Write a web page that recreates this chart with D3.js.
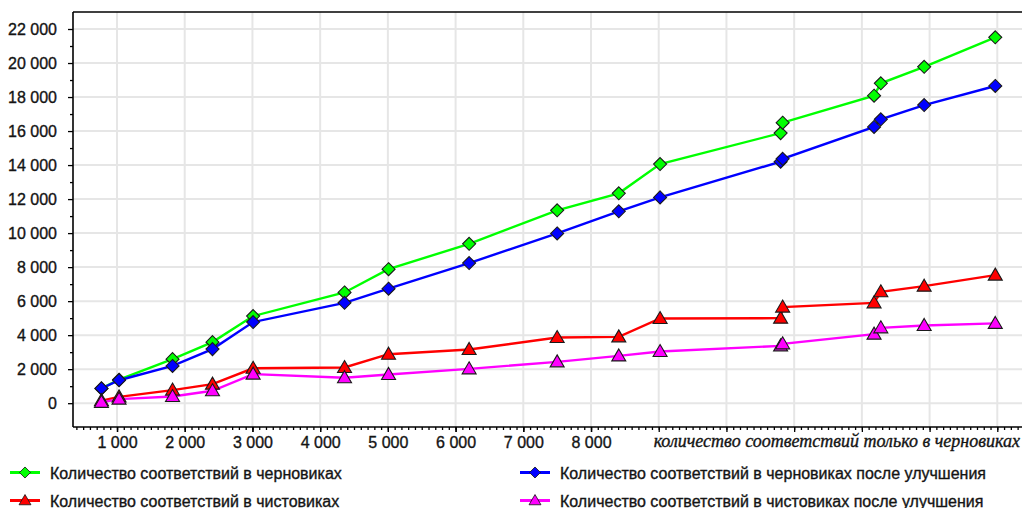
<!DOCTYPE html>
<html>
<head>
<meta charset="utf-8">
<script src="https://cdn.jsdelivr.net/npm/d3@7/dist/d3.min.js"></script>
<style>
  body { margin:0; background:#fff; }
  svg { display:block; font-family: "Liberation Sans", Arial, sans-serif; }
</style>
</head>
<body>
<script>
// x: количество соответствий только в черновиках
var draftOnly = [770, 1030, 1820, 2410, 3010, 4360, 5010, 6200, 7500, 8410, 9020, 10800, 10830, 12180, 12280, 12920, 13970];

var drafts         = [870, 1380, 2590, 3590, 5120, 6510, 7880, 9370, 11340, 12340, 14060, 15880, 16490, 18080, 18810, 19780, 21510];
var draftsImproved = [865, 1350, 2190, 3180, 4770, 5900, 6730, 8240, 9980, 11280, 12100, 14200, 14370, 16240, 16690, 17530, 18650];
var finals         = [150, 370, 770, 1120, 2050, 2100, 2880, 3160, 3860, 3900, 4980, 5000, 5650, 5900, 6550, 6880, 7530];
var finalsImproved = [50, 240, 390, 730, 1710, 1500, 1690, 2020, 2430, 2780, 3040, 3370, 3490, 4060, 4430, 4570, 4690];

var seriesNames = [
  "Количество соответствий в черновиках",
  "Количество соответствий в черновиках после улучшения",
  "Количество соответствий в чистовиках",
  "Количество соответствий в чистовиках после улучшения"
];

var yTicks = [0, 2000, 4000, 6000, 8000, 10000, 12000, 14000, 16000, 18000, 20000, 22000];
var xTicks = [1000, 2000, 3000, 4000, 5000, 6000, 7000, 8000];
var xGrid = [1000, 2000, 3000, 4000, 5000, 6000, 7000, 8000, 9000, 10000, 11000, 12000, 13000, 14000];
var xTitle = "количество соответствий только в черновиках";

var W = 1022, H = 508;
var mLeft = 73, mRight = 1022, mTop = 12, mBottom = 427;
var ink = "#141414";

var svg = d3.select("body").append("svg")
  .attr("width", W).attr("height", H);

svg.append("rect").attr("width", W).attr("height", H).attr("fill", "#fff");

var x = d3.scaleLinear().domain([350, 14350]).range([mLeft, 1021]);
var y = d3.scaleLinear().domain([-1400, 23000]).range([mBottom, mTop]);

var fmt = d3.formatLocale({ decimal: ",", thousands: " ", grouping: [3], currency: ["", ""] }).format(",d");

// grid
var grid = svg.append("g").attr("stroke", "#e6e6e6").attr("stroke-width", 2);
grid.selectAll(".gx").data(xGrid).enter().append("line")
  .attr("x1", d => x(d)).attr("x2", d => x(d))
  .attr("y1", mTop).attr("y2", mBottom);
grid.selectAll(".gy").data(yTicks).enter().append("line")
  .attr("x1", mLeft).attr("x2", mRight)
  .attr("y1", d => y(d)).attr("y2", d => y(d));

// axes
var yMinor = svg.append("g").attr("transform", "translate(" + mLeft + ",0)")
  .call(d3.axisLeft(y).tickValues(d3.range(1000, 22000, 2000)).tickSize(3).tickFormat(""));
var yAxis = svg.append("g").attr("transform", "translate(" + mLeft + ",0)")
  .call(d3.axisLeft(y).tickValues(yTicks).tickSize(5).tickPadding(11).tickFormat(fmt));

var xMinor = svg.append("g").attr("transform", "translate(0," + mBottom + ")")
  .call(d3.axisBottom(x).tickValues(d3.range(400, 14350, 100)).tickSize(3).tickFormat(""));
var xMajor = svg.append("g").attr("transform", "translate(0," + mBottom + ")")
  .call(d3.axisBottom(x).tickValues(xGrid).tickSize(5).tickFormat(""));
var xAxis = svg.append("g").attr("transform", "translate(0," + mBottom + ")")
  .call(d3.axisBottom(x).tickValues(xTicks).tickSize(5).tickPadding(5).tickFormat(fmt));

[yMinor, yAxis, xMinor, xMajor, xAxis].forEach(function(g) {
  g.select(".domain").remove();
  g.selectAll("line").attr("stroke", "#000").attr("stroke-width", 1.3);
  g.selectAll("text").attr("font-size", 16).attr("fill", ink)
    .attr("stroke", ink).attr("stroke-width", 0.35)
    .attr("font-family", '"Liberation Sans", Arial, sans-serif');
});

// frame
var frame = svg.append("g").attr("stroke", "#000").attr("stroke-width", 1.6).attr("fill", "none");
frame.append("line").attr("x1", mLeft).attr("x2", mLeft).attr("y1", mTop).attr("y2", mBottom);
frame.append("line").attr("x1", mLeft).attr("x2", mRight).attr("y1", mBottom).attr("y2", mBottom);
frame.append("line").attr("x1", mLeft).attr("x2", mRight).attr("y1", mTop).attr("y2", mTop);

svg.append("text")
  .attr("x", 1020).attr("y", 447)
  .attr("text-anchor", "end")
  .attr("fill", ink)
  .attr("stroke", ink).attr("stroke-width", 0.35)
  .style("font-family", '"Liberation Serif", "DejaVu Serif", serif')
  .style("font-style", "italic")
  .style("font-size", "18px")
  .text(xTitle);

// series
var diamond = "M0,-6.5L6.5,0L0,6.5L-6.5,0Z";
var triangle = "M0,-7L7,5L-7,5Z";
var series = [
  { values: drafts, color: "#00ff00", marker: diamond },
  { values: draftsImproved, color: "#0000ff", marker: diamond },
  { values: finals, color: "#ff0000", marker: triangle },
  { values: finalsImproved, color: "#ff00ff", marker: triangle }
];

var line = d3.line().x(d => x(d[0])).y(d => y(d[1]));

series.forEach(function(s) {
  var pts = draftOnly.map((v, i) => [v, s.values[i]]);
  svg.append("path").datum(pts)
    .attr("d", line)
    .attr("fill", "none")
    .attr("stroke", s.color)
    .attr("stroke-width", 2.4);
  s.pts = pts;
});

series.forEach(function(s) {
  svg.append("g").selectAll("path").data(s.pts).enter().append("path")
    .attr("d", s.marker)
    .attr("transform", d => "translate(" + x(d[0]) + "," + y(d[1]) + ")")
    .attr("fill", s.color)
    .attr("stroke", "#1a1a1a")
    .attr("stroke-width", 1.1);
});

// legend
var legendPos = [[10, 472.5], [520, 472.5], [10, 500.5], [520, 500.5]];
var legend = svg.append("g").selectAll("g").data(series).enter().append("g")
  .attr("transform", (d, i) => "translate(" + legendPos[i][0] + "," + legendPos[i][1] + ")");
legend.append("line")
  .attr("x1", 0).attr("x2", 30).attr("y1", 0).attr("y2", 0)
  .attr("stroke", d => d.color).attr("stroke-width", 3);
legend.append("path")
  .attr("d", d => d.marker)
  .attr("transform", "translate(15,0) scale(0.85)")
  .attr("fill", d => d.color)
  .attr("stroke", "#1a1a1a").attr("stroke-width", 1);
legend.append("text")
  .attr("x", 40).attr("y", 6)
  .attr("font-size", 16)
  .attr("fill", ink)
  .attr("stroke", ink).attr("stroke-width", 0.35)
  .text((d, i) => seriesNames[i]);
</script>
</body>
</html>
